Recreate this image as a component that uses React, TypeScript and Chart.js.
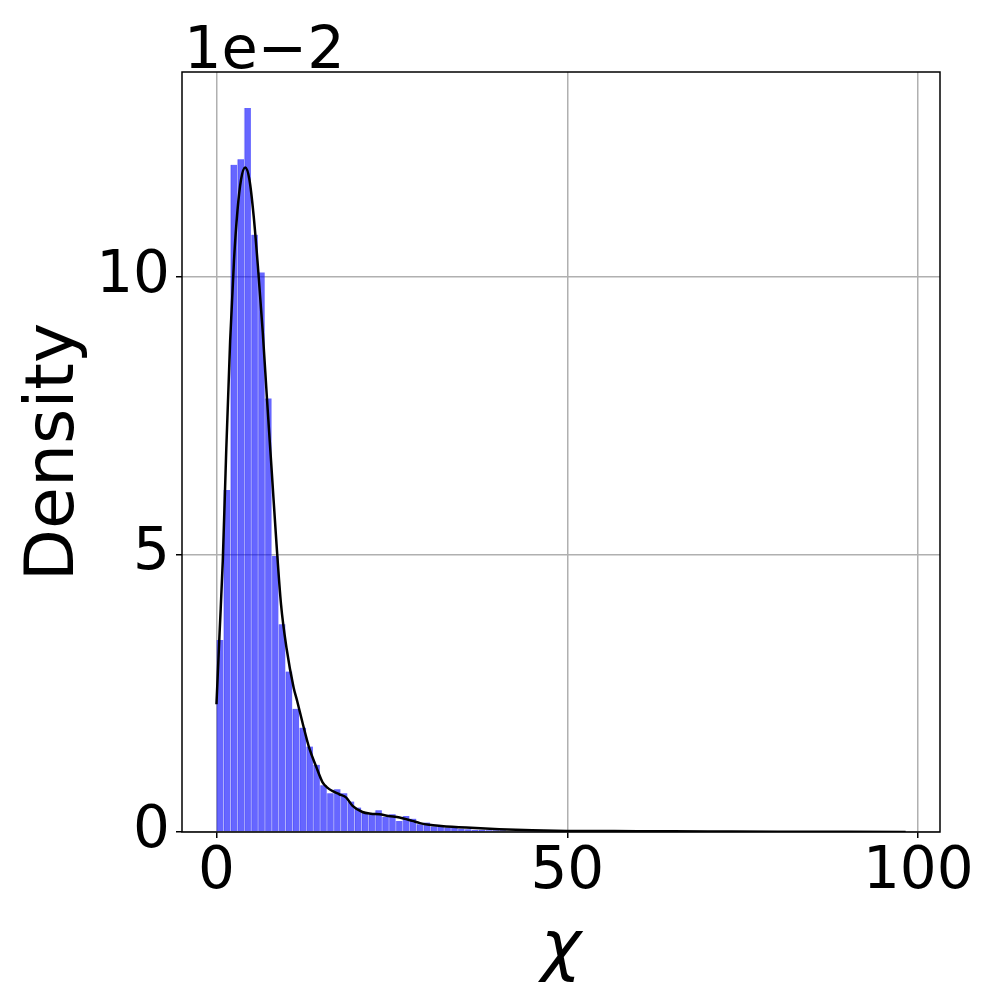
import React, { useEffect, useRef } from "react";
import { Chart, registerables } from "chart.js";

Chart.register(...registerables);

// Histogram: 100 bins of equal width starting at 0
const binWidth = 0.982;
const binDensity = [
  0.0346, 0.0616, 0.1202, 0.1212, 0.1304, 0.1076, 0.1008, 0.0781, 0.0497, 0.0374,
  0.0289, 0.0222, 0.0188, 0.0154, 0.0121, 0.0084, 0.0070, 0.0077, 0.0070, 0.0055,
  0.0044, 0.0035, 0.0032, 0.0039, 0.0027, 0.0032, 0.0020, 0.0029, 0.0024, 0.0014,
  0.0017, 0.0010, 0.0009, 0.0008, 0.0007, 0.0006, 0.0005, 0.0004, 0.0004, 0.0003,
  0.0003, 0.0003, 0.0002, 0.0002, 0.0002, 0.0002, 0.0001, 0.0002, 0.0001, 0.0001,
  0.0001, 0.0001, 0.0001, 0.00005, 0.00005, 0.00005, 0.00005, 0.00005, 0.00003, 0.00003,
  0.00003, 0.00003, 0.00003, 0.00002, 0.00002, 0.00002, 0.00002, 0.00002, 0.00001, 0.00001,
  0.00001, 0.00001, 0.00001, 0.00001, 0.00001, 0, 0.00001, 0, 0.00001, 0,
  0, 0.00001, 0, 0, 0, 0.00001, 0, 0, 0, 0,
  0, 0, 0, 0, 0, 0, 0, 0, 0, 0.00001,
];

// KDE curve
const kdeX = [
  0, 0.45, 0.9, 1.4, 1.95, 2.5, 3.0, 3.5, 4.1, 4.7, 5.3, 5.9, 6.6, 7.2, 7.9, 8.55,
  9.2, 10.0, 11.0, 11.5, 12.3, 13.25, 14.2, 15.1, 15.8, 16.5, 17.5, 18.5, 19.4,
  20.8, 22.0, 23.2, 24.5, 26.1, 27.9, 29.0, 30.3, 32.0, 35.6, 40.3, 45, 50, 60,
  70, 80, 90, 98.2,
];
const kdeY = [
  0.0230, 0.0360, 0.0488, 0.0690, 0.0885, 0.1030, 0.1120, 0.1175, 0.1197, 0.1175,
  0.1110, 0.1020, 0.0900, 0.0780, 0.0645, 0.0520, 0.0410, 0.0330, 0.0260, 0.0236,
  0.0195, 0.0150, 0.0118, 0.0090, 0.0080, 0.0074, 0.0068, 0.0062, 0.0047, 0.0036,
  0.0033, 0.0032, 0.0029, 0.0026, 0.0020, 0.0016, 0.0013, 0.0011, 0.0008, 0.0005,
  0.0003, 0.0002, 0.00015, 0.0001, 0.00005, 0.00003, 0.00002,
];

const xTicks = [0, 50, 100];
const yTicks = [0, 0.05, 0.1];
const xLabel = "χ";
const yLabel = "Density";
const offsetText = "1e\u22122";

const FONT = "'DejaVu Sans', sans-serif";

export default function App() {
  const ref = useRef<HTMLCanvasElement | null>(null);

  useEffect(() => {
    if (!ref.current) return;
    const bars = binDensity.map((d, i) => ({ x: binWidth * (i + 0.5), y: d }));
    const line = kdeX.map((x, i) => ({ x, y: kdeY[i] }));

    const frame = {
      id: "frame",
      afterDatasetsDraw(chart: any) {
        const { ctx, chartArea } = chart;
        ctx.save();
        ctx.strokeStyle = "#000";
        ctx.lineWidth = 1.5;
        ctx.strokeRect(chartArea.left, chartArea.top, chartArea.right - chartArea.left, chartArea.bottom - chartArea.top);
        ctx.fillStyle = "#000";
        ctx.font = `59px ${FONT}`;
        ctx.textAlign = "left";
        ctx.textBaseline = "alphabetic";
        ctx.fillText(offsetText, chartArea.left + 2, chartArea.top - 4);
        ctx.restore();
      },
    };

    const chart = new Chart(ref.current, {
      data: {
        datasets: [
          {
            type: "line",
            data: line,
            borderColor: "#000",
            borderWidth: 2.5,
            pointRadius: 0,
            cubicInterpolationMode: "monotone",
            fill: false,
            order: 0,
          } as any,
          {
            type: "bar",
            data: bars,
            backgroundColor: "rgba(0,0,255,0.6)",
            borderColor: "rgba(40,40,230,0.25)",
            borderWidth: { left: 1, right: 0, top: 0, bottom: 0 },
            borderSkipped: false,
            barPercentage: 1.0,
            categoryPercentage: 1.0,
            grouped: false,
            order: 1,
          } as any,
        ],
      },
      options: {
        animation: false,
        responsive: false,
        maintainAspectRatio: false,
        layout: { padding: { left: 0, right: 57, top: 72, bottom: 0 } },
        plugins: { legend: { display: false }, tooltip: { enabled: false } },
        scales: {
          x: {
            type: "linear",
            min: -4.91,
            max: 103.1,
            offset: false,
            afterFit(scale: any) {
              scale.height = 165;
            },
            afterBuildTicks(scale: any) {
              scale.ticks = xTicks.map((v) => ({ value: v }));
            },
            ticks: {
              color: "#000",
              font: { family: FONT, size: 58 },
              padding: 0,
              maxRotation: 0,
              autoSkip: false,
              callback: (v: any) => String(v),
            },
            grid: {
              offset: false,
              color: "#b0b0b0",
              lineWidth: 1.5,
              tickColor: "#000",
              tickLength: 6,
              drawTicks: true,
            },
            border: { display: false },
            title: {
              display: true,
              text: xLabel,
              color: "#000",
              font: { family: FONT, size: 68, style: "italic" },
              padding: { top: 0, bottom: 6 },
            },
          },
          y: {
            type: "linear",
            min: 0,
            max: 0.1369,
            afterFit(scale: any) {
              scale.width = 182;
            },
            afterBuildTicks(scale: any) {
              scale.ticks = yTicks.map((v) => ({ value: v }));
            },
            ticks: {
              color: "#000",
              font: { family: FONT, size: 58 },
              padding: 6,
              autoSkip: false,
              callback: (v: any) => String(Math.round(Number(v) * 100)),
            },
            grid: {
              offset: false,
              color: "#b0b0b0",
              lineWidth: 1.5,
              tickColor: "#000",
              tickLength: 6,
              drawTicks: true,
            },
            border: { display: false },
            title: {
              display: true,
              text: yLabel,
              color: "#000",
              font: { family: FONT, size: 68 },
              padding: { top: 15, bottom: 0 },
            },
          },
        },
      },
      plugins: [frame],
    });
    return () => chart.destroy();
  }, []);

  return (
    <div style={{ position: "absolute", left: 0, top: 0, width: 997, height: 997, background: "#fff" }}>
      <canvas ref={ref} width={997} height={997} style={{ width: 997, height: 997, display: "block" }} />
    </div>
  );
}
